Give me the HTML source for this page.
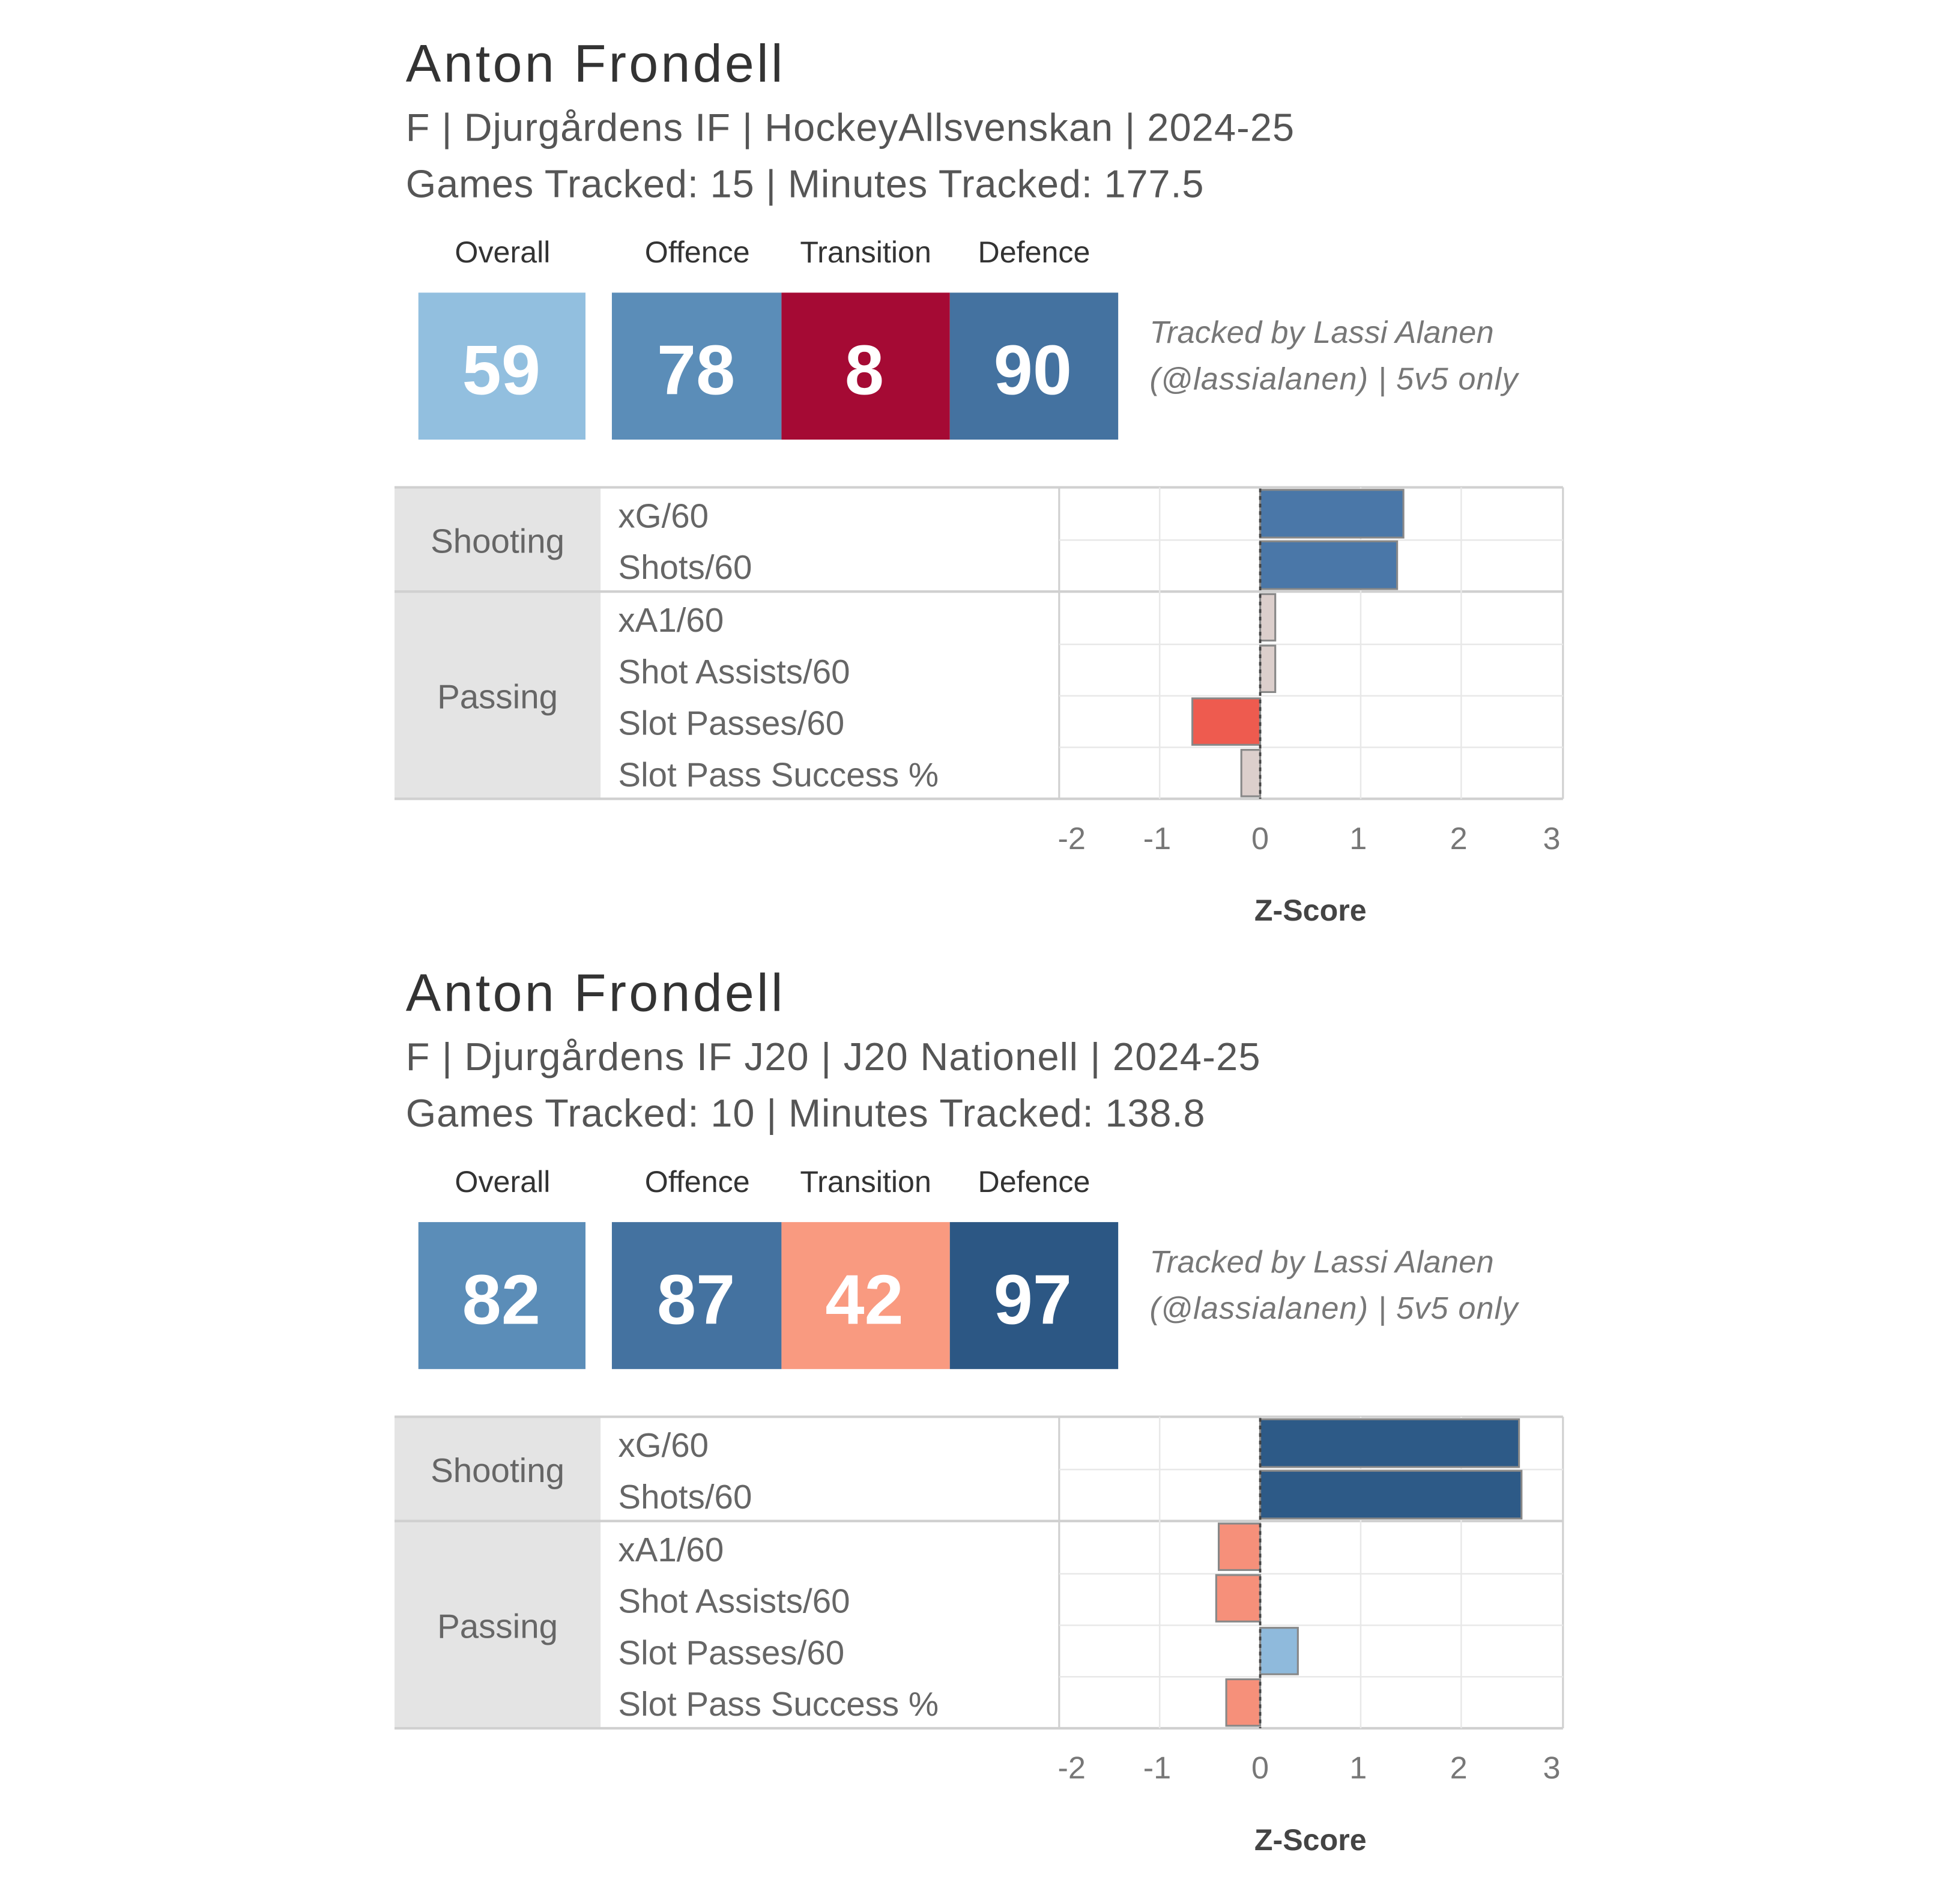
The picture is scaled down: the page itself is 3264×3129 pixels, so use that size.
<!DOCTYPE html>
<html><head><meta charset="utf-8"><style>
html,body{margin:0;padding:0;background:#fff;}
svg{display:block;}
text{font-family:"Liberation Sans Narrow","Liberation Sans",sans-serif;}
</style></head><body>
<svg width="3264" height="3129" viewBox="0 0 1560 1496" preserveAspectRatio="none" xmlns="http://www.w3.org/2000/svg">
<defs>
<g id="grid">
  <rect x="314" y="388" width="164" height="248" fill="#e4e4e4"/>
  <line x1="314" y1="388" x2="1244" y2="388" stroke="#d0d0d0" stroke-width="2"/>
  <line x1="314" y1="471" x2="1244" y2="471" stroke="#d0d0d0" stroke-width="2"/>
  <line x1="314" y1="636" x2="1244" y2="636" stroke="#d0d0d0" stroke-width="2"/>
  <line x1="843" y1="388" x2="843" y2="636" stroke="#d0d0d0" stroke-width="1.5"/>
  <line x1="1244" y1="388" x2="1244" y2="636" stroke="#d0d0d0" stroke-width="1.5"/>
  <g stroke="#e8e8e8" stroke-width="1.2">
    <line x1="843" y1="430" x2="1244" y2="430"/>
    <line x1="843" y1="513" x2="1244" y2="513"/>
    <line x1="843" y1="554" x2="1244" y2="554"/>
    <line x1="843" y1="595" x2="1244" y2="595"/>
    <line x1="923" y1="388" x2="923" y2="636"/>
    <line x1="1083" y1="388" x2="1083" y2="636"/>
    <line x1="1163" y1="388" x2="1163" y2="636"/>
  </g>
  <g fill="#666" font-size="27">
    <text x="396" y="440" text-anchor="middle">Shooting</text>
    <text x="396" y="564" text-anchor="middle">Passing</text>
    <text x="492" y="420">xG/60</text>
    <text x="492" y="461">Shots/60</text>
    <text x="492" y="503">xA1/60</text>
    <text x="492" y="544">Shot Assists/60</text>
    <text x="492" y="585">Slot Passes/60</text>
    <text x="492" y="626">Slot Pass Success %</text>
  </g>
  <g fill="#777" font-size="25" text-anchor="middle">
    <text x="853" y="676">-2</text>
    <text x="921" y="676">-1</text>
    <text x="1003" y="676">0</text>
    <text x="1081" y="676">1</text>
    <text x="1161" y="676">2</text>
    <text x="1235" y="676">3</text>
  </g>
  <text x="1043" y="733" text-anchor="middle" font-size="24" font-weight="bold" fill="#444">Z-Score</text>
  <g fill="#333" font-size="24" text-anchor="middle">
    <text x="400" y="209">Overall</text>
    <text x="555" y="209">Offence</text>
    <text x="689" y="209">Transition</text>
    <text x="823" y="209">Defence</text>
  </g>
  <g fill="#777" font-size="25" font-style="italic">
    <text x="915" y="273" textLength="274">Tracked by Lassi Alanen</text>
    <text x="915" y="310" textLength="293">(@lassialanen) | 5v5 only</text>
  </g>
  <text x="323" y="65" font-size="42" fill="#333" textLength="300">Anton Frondell</text>
</g>
</defs>

<!-- Panel 1 -->
<use href="#grid"/>
<text x="323" y="112" font-size="31" fill="#555" textLength="707">F | Djurgårdens IF | HockeyAllsvenskan | 2024-25</text>
<text x="323" y="157" font-size="31" fill="#555" textLength="635">Games Tracked: 15 | Minutes Tracked: 177.5</text>
<rect x="333" y="233" width="133" height="117" fill="#92bfdf"/>
<rect x="487" y="233" width="135" height="117" fill="#5b8db8"/>
<rect x="622" y="233" width="134" height="117" fill="#a50a34"/>
<rect x="756" y="233" width="134" height="117" fill="#4472a0"/>
<g fill="#fff" font-size="56" font-weight="bold" text-anchor="middle">
  <text x="399" y="314">59</text><text x="554" y="314">78</text><text x="688" y="314">8</text><text x="822" y="314">90</text>
</g>
<g stroke="#888" stroke-width="1.5">
  <rect x="1003" y="390" width="114" height="38" fill="#4a77a8"/>
  <rect x="1003" y="431" width="109" height="38" fill="#4a77a8"/>
  <rect x="1003" y="473" width="12" height="37" fill="#dccfcc"/>
  <rect x="1003" y="514" width="12" height="37" fill="#dccfcc"/>
  <rect x="949" y="556" width="54" height="37" fill="#ee5b4f"/>
  <rect x="988" y="597" width="15" height="37" fill="#dccfcc"/>
</g>
<line x1="1003" y1="389" x2="1003" y2="636" stroke="#444" stroke-width="1.8" stroke-dasharray="3,3"/>

<!-- Panel 2 -->
<g transform="translate(0,740)">
<use href="#grid"/>
<text x="323" y="112" font-size="31" fill="#555" textLength="680">F | Djurgårdens IF J20 | J20 Nationell | 2024-25</text>
<text x="323" y="157" font-size="31" fill="#555" textLength="636">Games Tracked: 10 | Minutes Tracked: 138.8</text>
<rect x="333" y="233" width="133" height="117" fill="#5b8db8"/>
<rect x="487" y="233" width="135" height="117" fill="#4472a0"/>
<rect x="622" y="233" width="134" height="117" fill="#f99a80"/>
<rect x="756" y="233" width="134" height="117" fill="#2c5784"/>
<g fill="#fff" font-size="56" font-weight="bold" text-anchor="middle">
  <text x="399" y="314">82</text><text x="554" y="314">87</text><text x="688" y="314">42</text><text x="822" y="314">97</text>
</g>
<g stroke="#888" stroke-width="1.5">
  <rect x="1003" y="390" width="206" height="38" fill="#2d5a87"/>
  <rect x="1003" y="431" width="208" height="38" fill="#2d5a87"/>
  <rect x="970" y="473" width="33" height="37" fill="#f6907a"/>
  <rect x="968" y="514" width="35" height="37" fill="#f6907a"/>
  <rect x="1003" y="556" width="30" height="37" fill="#8fbadc"/>
  <rect x="976" y="597" width="27" height="37" fill="#f6907a"/>
</g>
<line x1="1003" y1="389" x2="1003" y2="636" stroke="#444" stroke-width="1.8" stroke-dasharray="3,3"/>
</g>
</svg>
</body></html>
